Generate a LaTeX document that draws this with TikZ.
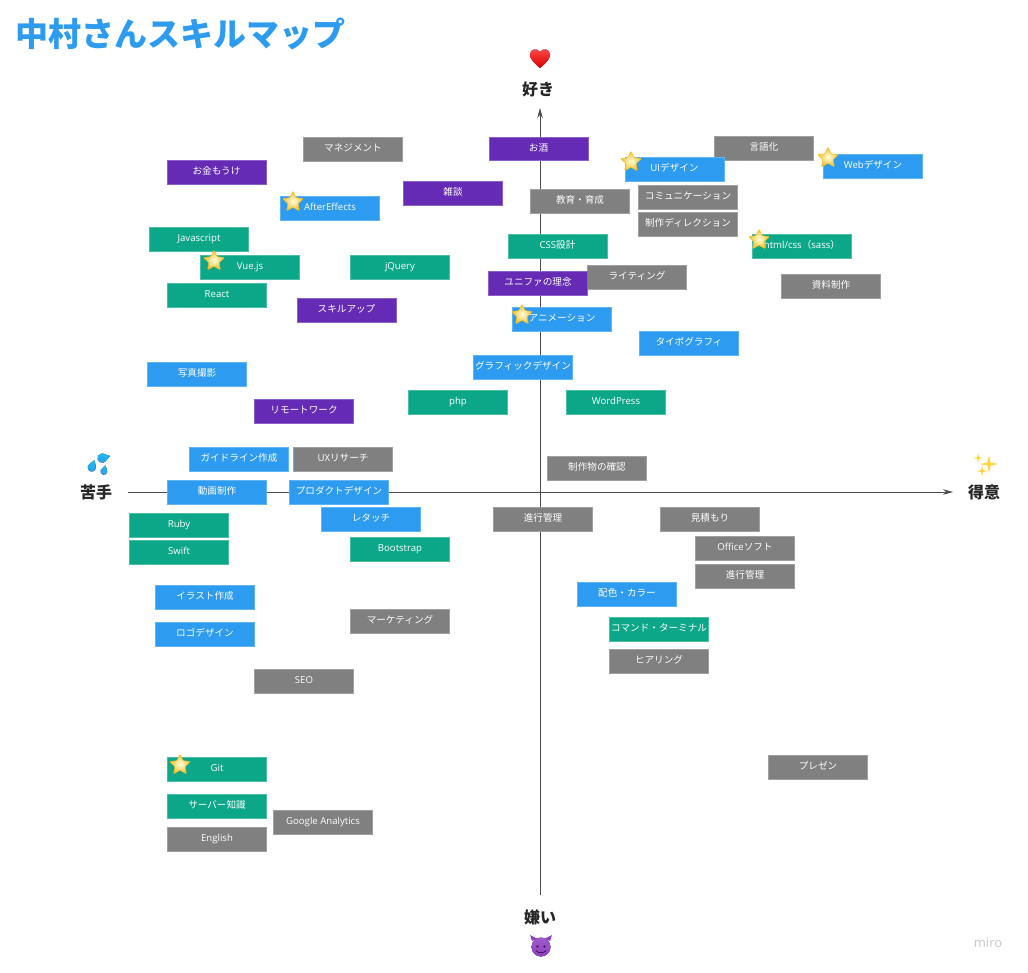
\documentclass[tikz,border=0pt]{standalone}
\usepackage{fontspec}
\usepackage{tikz}
\usetikzlibrary{arrows.meta}
\usetikzlibrary{shapes.geometric}
\setmainfont{Noto Sans CJK JP}
\newfontfamily\latfont{Open Sans}
\newcommand{\lat}[1]{{\latfont #1}}
\definecolor{skillpurple}{HTML}{652BB5}
\definecolor{skillgray}{HTML}{808080}
\definecolor{skillblue}{HTML}{2D9BF0}
\definecolor{skillgreen}{HTML}{0CA789}
\definecolor{skillstar}{HTML}{F6BC22}
\definecolor{sparkleyellow}{HTML}{FFD740}
\definecolor{devilpurple}{HTML}{8E3FC0}
\begin{document}
\begin{tikzpicture}[x=1pt,y=-1pt,>={Stealth[length=10pt,width=5.5pt]},
  skill node/.style={rectangle,minimum width=99pt,minimum height=23.5pt,inner sep=0pt,line width=0.4pt,text=white,text height=8pt,text depth=3pt,font=\fontsize{9.6}{11}\selectfont},
  purple node/.style={skill node,fill=skillpurple,draw=skillpurple!75!white},
  gray node/.style={skill node,fill=skillgray,draw=skillgray!75!white},
  blue node/.style={skill node,fill=skillblue,draw=skillblue!75!white},
  green node/.style={skill node,fill=skillgreen,draw=skillgreen!75!white},
  axis node/.style={font=\fontsize{16}{18}\selectfont\bfseries,text=black!85,inner sep=0pt},
  star node/.style={star,star points=5,star point ratio=2.1,minimum size=22pt,inner sep=0pt,rounded corners=1pt,draw=skillstar,line width=0.5pt,inner color=yellow!12,outer color=skillstar},
  sparkle node/.style={star,star points=4,star point ratio=4,inner sep=0pt,fill=sparkleyellow},
  drop/.pic={\fill[top color=cyan!35!skillblue,bottom color=skillblue] (0,-1.7) .. controls (0.35,-1) and (1,-0.5) .. (1,0.1) arc[start angle=0,end angle=180,radius=1] .. controls (-1,-0.5) and (-0.35,-1) .. (0,-1.7) -- cycle;}]
  \useasboundingbox (0,0) rectangle (1028,972);

  \node[font=\fontsize{33}{36}\selectfont\bfseries,text=skillblue,inner sep=0pt,anchor=west] (title) at (15,34) {中村さんスキルマップ};

  \node[axis node] (suki) at (538,89) {好き};
  \node[axis node] (kirai) at (540,917) {嫌い};
  \node[axis node] (nigate) at (96,492) {苦手};
  \node[axis node] (tokui) at (984,492) {得意};

  \fill[top color=red!70!white,bottom color=red!85!black] (540,68) .. controls (534,63) and (530,59) .. (530,54.5) .. controls (530,49) and (537,47.5) .. (540,52) .. controls (543,47.5) and (550,49) .. (550,54.5) .. controls (550,59) and (546,63) .. (540,68) -- cycle;

  \pic[scale=4.2,rotate=-20] at (92,467) {drop};
  \pic[scale=4.6,rotate=-75] at (102.5,458) {drop};
  \pic[scale=3.4,rotate=-15] at (104,471) {drop};

  \node[sparkle node,minimum size=18pt] (sparkbig) at (989,464) {};
  \node[sparkle node,minimum size=10pt] (sparktop) at (978,458) {};
  \node[sparkle node,minimum size=11pt] (sparklow) at (982,471) {};

  \fill[devilpurple] (532,941) -- (530,935) -- (537,938.5) -- cycle;
  \fill[devilpurple] (550,941) -- (552,935) -- (545,938.5) -- cycle;
  \fill[top color=devilpurple!85!white,bottom color=devilpurple] (541,947) circle[radius=9.5];
  \fill[black!70!devilpurple] (537.5,946.5) circle[radius=1.2] (544.5,946.5) circle[radius=1.2];
  \draw[black!70!devilpurple,line width=0.7pt] (536,950.5) .. controls (538,953.5) and (544,953.5) .. (546,950.5);

  \coordinate (ytop) at (540,108);
  \coordinate (ybottom) at (540,895);
  \coordinate (xleft) at (128,492);
  \coordinate (xright) at (953,492);
  \draw[->,line width=0.7pt,black!70] (ybottom) -- (ytop);
  \draw[->,line width=0.7pt,black!70] (xleft) -- (xright);

  \node[gray node] (manage) at (353,149) {マネジメント};
  \node[gray node] (gengo) at (764,148) {言語化};
  \node[gray node] (kyoiku) at (580,201) {教育・育成};
  \node[gray node] (comm) at (688,197) {コミュニケーション};
  \node[gray node] (direction) at (688,224) {制作ディレクション};
  \node[gray node] (writing) at (637,277) {ライティング};
  \node[gray node] (shiryo) at (831,286) {資料制作};
  \node[gray node] (uxr) at (343,459) {\lat{UX}リサーチ};
  \node[gray node] (kakunin) at (597,468) {制作物の確認};
  \node[gray node] (shinko) at (543,519) {進行管理};
  \node[gray node] (mitsumori) at (710,519) {見積もり};
  \node[gray node] (office) at (745,548) {\lat{Office}ソフト};
  \node[gray node] (shinkob) at (745,576) {進行管理};
  \node[gray node] (marketing) at (400,621) {マーケティング};
  \node[gray node] (hearing) at (659,661) {ヒアリング};
  \node[gray node] (seo) at (304,681) {\lat{SEO}};
  \node[gray node] (presen) at (818,767) {プレゼン};
  \node[gray node] (analytics) at (323,822) {\lat{Google Analytics}};
  \node[gray node] (english) at (217,839) {\lat{English}};

  \node[purple node] (okane) at (216.5,172) {お金もうけ};
  \node[purple node] (osake) at (538.5,148.5) {お酒};
  \node[purple node] (zatsudan) at (453,193) {雑談};
  \node[purple node] (skillup) at (346.5,310) {スキルアップ};
  \node[purple node] (rinen) at (538,283) {ユニファの理念};
  \node[purple node] (remote) at (304,411) {リモートワーク};

  \node[blue node] (uidesign) at (674.5,169) {\lat{UI}デザイン};
  \node[blue node] (webdesign) at (873,166) {\lat{Web}デザイン};
  \node[blue node] (after) at (330,208) {\lat{AfterEffects}};
  \node[blue node] (anime) at (562,319) {アニメーション};
  \node[blue node] (typo) at (689,343) {タイポグラフィ};
  \node[blue node] (graphic) at (523,367) {グラフィックデザイン};
  \node[blue node] (photo) at (197,374) {写真撮影};
  \node[blue node] (guide) at (239,459) {ガイドライン作成};
  \node[blue node] (movie) at (217,492) {動画制作};
  \node[blue node] (product) at (339,492) {プロダクトデザイン};
  \node[blue node] (retouch) at (371,519) {レタッチ};
  \node[blue node] (color) at (627,594) {配色・カラー};
  \node[blue node] (illust) at (205,597) {イラスト作成};
  \node[blue node] (logo) at (205,634) {ロゴデザイン};

  \node[green node] (js) at (199,239) {\lat{Javascript}};
  \node[green node] (vue) at (250,267) {\lat{Vue.js}};
  \node[green node] (jquery) at (400,267) {\lat{jQuery}};
  \node[green node] (react) at (217,295) {\lat{React}};
  \node[green node] (css) at (557.5,246) {\lat{CSS}設計};
  \node[green node] (html) at (802,246) {\lat{html/css}（\lat{sass}）};
  \node[green node] (php) at (458,402) {\lat{php}};
  \node[green node] (wp) at (616,402) {\lat{WordPress}};
  \node[green node] (ruby) at (179,525) {\lat{Ruby}};
  \node[green node] (swift) at (179,552) {\lat{Swift}};
  \node[green node] (bootstrap) at (400,549) {\lat{Bootstrap}};
  \node[green node] (terminal) at (659,629) {コマンド・ターミナル};
  \node[green node] (git) at (217,769) {\lat{Git}};
  \node[green node] (server) at (217,806) {サーバー知識};

  \node[star node] (staruidesign) at (631,162) {};
  \node[star node] (starwebdesign) at (828,158) {};
  \node[star node] (starafter) at (293,202) {};
  \node[star node] (starvue) at (214,261) {};
  \node[star node] (starhtml) at (759,240) {};
  \node[star node] (staranime) at (522,315) {};
  \node[star node] (stargit) at (180,765) {};

  \node[font=\fontsize{13}{15}\selectfont\latfont,text=black!22,inner sep=0pt] (miro) at (988,943) {miro};
\end{tikzpicture}
\end{document}
